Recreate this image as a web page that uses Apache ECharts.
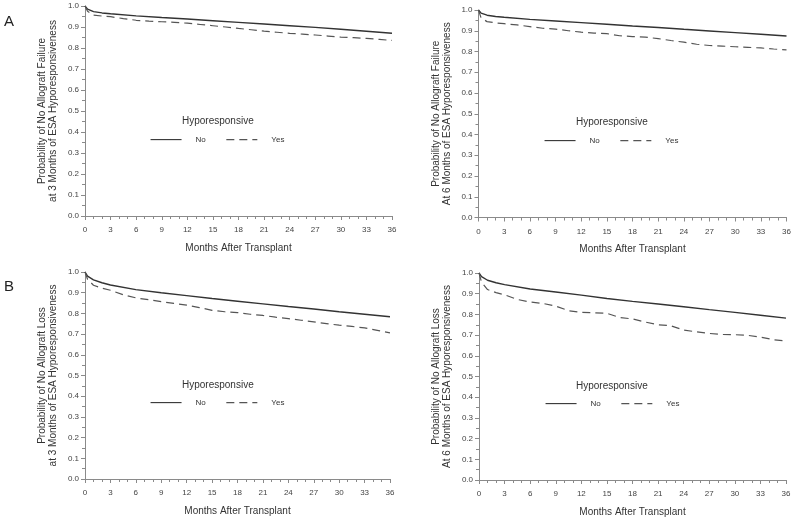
<!DOCTYPE html>
<html>
<head>
<meta charset="utf-8">
<script src="https://cdn.jsdelivr.net/npm/echarts@6/dist/echarts.min.js"></script>
<style>html,body{margin:0;padding:0;background:#fff}#c{width:795px;height:523px}</style>
</head>
<body>
<div id="c"></div>
<script>
// Months for the smooth "No" curves and for the stepwise "Yes" curves
var monthsNo = [0, 0.3, 1, 2, 3, 6, 9, 12, 15, 18, 21, 24, 27, 30, 33, 36];
var monthsYes = [0, 0.3, 1, 2, 3, 4.5, 6, 7.5, 9, 10.5, 12, 13.5, 15, 16.5, 18, 19.5, 21, 22.5, 24, 25.5, 27, 28.5, 30, 31.5, 33, 34.5, 36];

// A: allograft failure, 3 months / 6 months
var failure3No  = [1.0, 0.985, 0.973, 0.967, 0.963, 0.953, 0.945, 0.938, 0.930, 0.922, 0.914, 0.906, 0.898, 0.889, 0.880, 0.870];
var failure3Yes = [1.0, 0.975, 0.957, 0.952, 0.949, 0.940, 0.932, 0.928, 0.925, 0.922, 0.918, 0.912, 0.906, 0.900, 0.893, 0.887, 0.880, 0.875, 0.870, 0.866, 0.862, 0.857, 0.852, 0.849, 0.846, 0.841, 0.836];
var failure6No  = [1.0, 0.985, 0.975, 0.969, 0.965, 0.955, 0.947, 0.939, 0.931, 0.923, 0.916, 0.907, 0.899, 0.891, 0.883, 0.875];
var failure6Yes = [1.0, 0.962, 0.944, 0.938, 0.934, 0.928, 0.920, 0.912, 0.908, 0.900, 0.893, 0.889, 0.886, 0.876, 0.872, 0.869, 0.862, 0.853, 0.845, 0.835, 0.829, 0.826, 0.823, 0.820, 0.817, 0.812, 0.808];
// B: allograft loss, 3 months / 6 months
var loss3No  = [1.0, 0.980, 0.962, 0.948, 0.937, 0.915, 0.900, 0.886, 0.872, 0.859, 0.846, 0.833, 0.821, 0.808, 0.796, 0.784];
var loss3Yes = [1.0, 0.965, 0.936, 0.922, 0.912, 0.890, 0.875, 0.866, 0.857, 0.848, 0.840, 0.828, 0.815, 0.808, 0.804, 0.796, 0.790, 0.782, 0.775, 0.767, 0.759, 0.751, 0.743, 0.737, 0.730, 0.718, 0.706];
var loss6No  = [1.0, 0.982, 0.965, 0.953, 0.944, 0.923, 0.908, 0.893, 0.877, 0.863, 0.850, 0.837, 0.823, 0.810, 0.796, 0.782];
var loss6Yes = [1.0, 0.955, 0.920, 0.905, 0.895, 0.872, 0.860, 0.853, 0.840, 0.818, 0.810, 0.808, 0.805, 0.785, 0.778, 0.763, 0.750, 0.745, 0.724, 0.716, 0.708, 0.703, 0.702, 0.699, 0.690, 0.678, 0.672];

var legendNames = ['No', 'Yes'];
var legendTitle = 'Hyporesponsive';
var xTitle = 'Months After Transplant';
var yTitles = [
  'Probability of No Allograft Failure\nat 3 Months of ESA Hyporesponsiveness',
  'Probability of No Allograft Failure\nAt 6 Months of ESA Hyporesponsiveness',
  'Probability of No Allograft Loss\nat 3 Months of ESA Hyporesponsiveness',
  'Probability of No Allograft Loss\nAt 6 Months of ESA Hyporesponsiveness'
];
var panelLetters = ['A', 'B'];

var panels = [
  {no: failure3No, yes: failure3Yes, grid: {left: 85, top: 6, width: 307, height: 210}, legend: {left: 150, top: 132}, title: {left: 182, top: 116}},
  {no: failure6No, yes: failure6Yes, grid: {left: 478.5, top: 10, width: 308, height: 207.5}, legend: {left: 544, top: 133}, title: {left: 576, top: 117}},
  {no: loss3No, yes: loss3Yes, grid: {left: 85, top: 272, width: 305, height: 207}, legend: {left: 150, top: 395}, title: {left: 182, top: 380}},
  {no: loss6No, yes: loss6Yes, grid: {left: 479, top: 273, width: 307, height: 207}, legend: {left: 545, top: 396}, title: {left: 576, top: 381}}
];

var FONT = "'Liberation Sans', Arial, sans-serif";
var axisColor = '#8a8a8a';
function pairs(xs, ys) { return xs.map(function (x, i) { return [x, ys[i]]; }); }

var option = {
  animation: false,
  backgroundColor: '#fff',
  textStyle: {fontFamily: FONT},
  grid: [], xAxis: [], yAxis: [], series: [], legend: [],
  title: [
    {text: panelLetters[0], left: 4, top: 14, padding: 0, textStyle: {fontSize: 15, fontWeight: 'normal', color: '#222', fontFamily: FONT}},
    {text: panelLetters[1], left: 4, top: 279, padding: 0, textStyle: {fontSize: 15, fontWeight: 'normal', color: '#222', fontFamily: FONT}}
  ]
};

panels.forEach(function (p, i) {
  option.grid.push(p.grid);
  option.xAxis.push({
    type: 'value', gridIndex: i, min: 0, max: 36, interval: 3,
    name: xTitle, nameLocation: 'middle', nameGap: 27,
    nameTextStyle: {fontSize: 10, color: '#333', fontFamily: FONT},
    axisLine: {lineStyle: {color: axisColor}},
    axisTick: {show: true, length: 4, lineStyle: {color: axisColor}},
    minorTick: {show: true, splitNumber: 3, length: 3, lineStyle: {color: axisColor}},
    splitLine: {show: false},
    axisLabel: {fontSize: 8, color: '#444', margin: 10, fontFamily: FONT}
  });
  option.yAxis.push({
    type: 'value', gridIndex: i, min: 0, max: 1, interval: 0.1,
    name: yTitles[i], nameLocation: 'middle', nameGap: 26,
    nameTextStyle: {fontSize: 10, color: '#333', lineHeight: 11, fontFamily: FONT},
    axisLine: {show: true, lineStyle: {color: axisColor}},
    axisTick: {show: true, length: 4, lineStyle: {color: axisColor}},
    minorTick: {show: true, splitNumber: 2, length: 3, lineStyle: {color: axisColor}},
    splitLine: {show: false},
    axisLabel: {fontSize: 8, color: '#444', margin: 6, fontFamily: FONT,
      formatter: function (v) { return v.toFixed(1); }}
  });
  option.series.push({
    name: legendNames[0], type: 'line', xAxisIndex: i, yAxisIndex: i,
    data: pairs(monthsNo, p.no), symbol: 'none', showSymbol: false, smooth: false,
    lineStyle: {color: '#333', width: 1.4, type: 'solid'}, itemStyle: {color: '#333'}
  });
  option.series.push({
    name: legendNames[1], type: 'line', xAxisIndex: i, yAxisIndex: i,
    data: pairs(monthsYes, p.yes), symbol: 'none', showSymbol: false, smooth: false,
    lineStyle: {color: '#555', width: 1.2, type: [8, 5]}, itemStyle: {color: '#555'}
  });
  option.legend.push({
    data: legendNames, left: p.legend.left, top: p.legend.top + 2, orient: 'horizontal',
    itemWidth: 31, itemHeight: 14, itemGap: 20, selectedMode: false, padding: 0,
    itemStyle: {color: 'transparent', borderWidth: 0, opacity: 0},
    lineStyle: {width: 1.1},
    textStyle: {fontSize: 8, color: '#333', padding: [16, 0, 0, 9], fontFamily: FONT}
  });
  option.title.push({
    text: legendTitle, left: p.title.left, top: p.title.top, padding: 0,
    textStyle: {fontSize: 10, fontWeight: 'normal', color: '#333', fontFamily: FONT}
  });
});

var chart = echarts.init(document.getElementById('c'), null, {renderer: 'canvas'});
chart.setOption(option);
</script>
</body>
</html>
